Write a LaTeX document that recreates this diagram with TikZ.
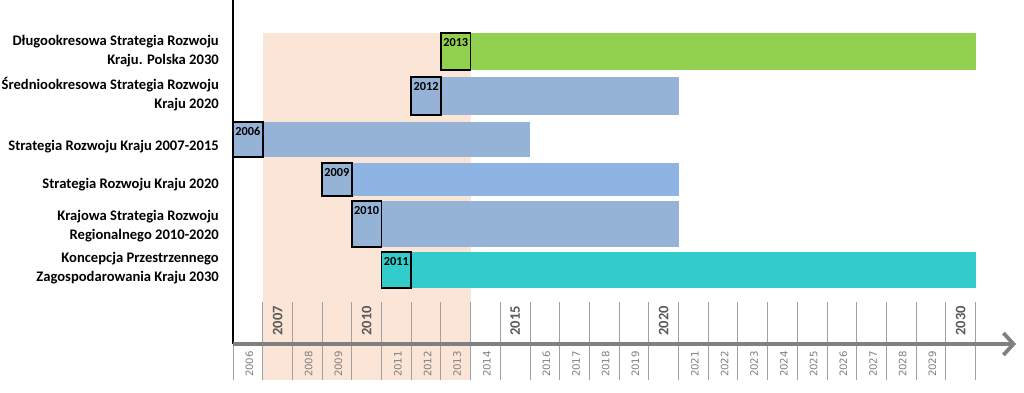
\documentclass[tikz,border=0pt]{standalone}
\usepackage{fontspec}
\setmainfont{Carlito}
\newfontfamily\axisfont{DejaVu Sans}
\usetikzlibrary{arrows.meta}
\definecolor{peach}{HTML}{FBE5D6}
\definecolor{barblue}{HTML}{95B3D7}
\definecolor{barlight}{HTML}{8DB4E2}
\definecolor{bargreen}{HTML}{92D050}
\definecolor{barteal}{HTML}{33CCCC}
\definecolor{tickgray}{HTML}{A0A0A0}
\definecolor{axisgray}{HTML}{808080}
\definecolor{bigyear}{HTML}{595959}
\definecolor{smallyear}{HTML}{7F7F7F}
\newcommand{\yx}[1]{\fpeval{233+(#1-2006)*29.7}}
\begin{document}
\begin{tikzpicture}[x=1pt,y=-1pt,
  lbl/.style={font=\bfseries\fontsize{14.6}{19}\selectfont, align=right, anchor=east, inner sep=0pt},
  barnode/.style={anchor=north west, inner sep=0pt, outer sep=0pt, draw=none},
  yearbox/.style={anchor=north west, inner sep=0pt, outer sep=0pt, draw=black, line width=1.6pt, minimum width=29.7pt},
  boxlabel/.style={font=\bfseries\fontsize{12.3}{12}\selectfont, anchor=north, inner sep=0pt, yshift=-5pt},
  tickline/.style={draw=tickgray, line width=0.9pt},
  bigyr/.style={font=\bfseries\fontsize{14.5}{14}\selectfont, text=bigyear, rotate=90, inner sep=0pt},
  smallyr/.style={font=\axisfont\fontsize{10.2}{10}\selectfont, text=smallyear, rotate=90, inner sep=0pt}
]
\useasboundingbox (0,0) rectangle (1024,393);

% highlighted period 2007-2013
\fill[peach] (263,33) rectangle (471,380);

% axis ticks
\foreach \i in {1,...,25}{
  \coordinate (ut\i) at ({233+\i*29.7},302);
  \coordinate (ub\i) at ({233+\i*29.7},343);
  \draw[tickline] (ut\i) -- (ub\i);
}
\foreach \i in {0,...,25}{
  \coordinate (lt\i) at ({233+\i*29.7},346);
  \coordinate (lb\i) at ({233+\i*29.7},380);
  \draw[tickline] (lt\i) -- (lb\i);
}

% year labels
\foreach \y in {2007,2010,2015,2020,2030}{
  \node[bigyr] (big\y) at ({233+(\y-2006+0.5)*29.7},321) {\y};
}
\foreach \y in {2006,2008,2009,2011,2012,2013,2014,2016,2017,2018,2019,2021,2022,2023,2024,2025,2026,2027,2028,2029}{
  \node[smallyr] (sm\y) at ({233+(\y-2006+0.5)*29.7+1.5},364) {\y};
}

% axes
\coordinate (vtop) at (233,0);
\coordinate (axstart) at (233,344);
\coordinate (axend) at (1016,344);
\draw[black, line width=1.2pt] (vtop) -- (axstart);
\draw[axisgray, line width=3.8pt, -{Straight Barb[length=10pt,width=22pt]}] (axstart) -- (axend);

% bars
% 1
\node[barnode, fill=bargreen, minimum width={\yx{2031}-\yx{2013}}, minimum height=37pt] (bar1) at ({\yx{2013}},33) {};
\node[yearbox, fill=bargreen, minimum height=37pt] (box1) at ({\yx{2013}},33) {};
\node[boxlabel] (lab1) at (box1.north) {2013};
% 2
\node[barnode, fill=barblue, minimum width={\yx{2021}-\yx{2012}}, minimum height=38pt] (bar2) at ({\yx{2012}},77) {};
\node[yearbox, fill=barblue, minimum height=38pt] (box2) at ({\yx{2012}},77) {};
\node[boxlabel] (lab2) at (box2.north) {2012};
% 3
\node[barnode, fill=barblue, minimum width={\yx{2016}-\yx{2006}}, minimum height=35pt] (bar3) at ({\yx{2006}},122) {};
\node[yearbox, fill=barblue, minimum height=35pt] (box3) at ({\yx{2006}},122) {};
\node[boxlabel] (lab3) at (box3.north) {2006};
% 4
\node[barnode, fill=barlight, minimum width={\yx{2021}-\yx{2009}}, minimum height=33pt] (bar4) at ({\yx{2009}},163) {};
\node[yearbox, fill=barblue, minimum height=33pt] (box4) at ({\yx{2009}},163) {};
\node[boxlabel] (lab4) at (box4.north) {2009};
% 5
\node[barnode, fill=barblue, minimum width={\yx{2021}-\yx{2010}}, minimum height=46pt] (bar5) at ({\yx{2010}},201) {};
\node[yearbox, fill=barblue, minimum height=46pt] (box5) at ({\yx{2010}},201) {};
\node[boxlabel] (lab5) at (box5.north) {2010};
% 6
\node[barnode, fill=barteal, minimum width={\yx{2031}-\yx{2011}}, minimum height=36pt] (bar6) at ({\yx{2011}},252) {};
\node[yearbox, fill=barteal, minimum height=36pt] (box6) at ({\yx{2011}},252) {};
\node[boxlabel] (lab6) at (box6.north) {2011};

% left labels
\node[lbl] (t1) at (219,51) {Długookresowa Strategia Rozwoju\\Kraju. Polska 2030};
\node[lbl] (t2) at (219,94.5) {Średniookresowa Strategia Rozwoju\\Kraju 2020};
\node[lbl] (t3) at (219,147) {Strategia Rozwoju Kraju 2007-2015};
\node[lbl] (t4) at (219,185) {Strategia Rozwoju Kraju 2020};
\node[lbl] (t5) at (219,226.5) {Krajowa Strategia Rozwoju\\Regionalnego 2010-2020};
\node[lbl] (t6) at (219,268) {Koncepcja Przestrzennego\\Zagospodarowania Kraju 2030};
\end{tikzpicture}
\end{document}
